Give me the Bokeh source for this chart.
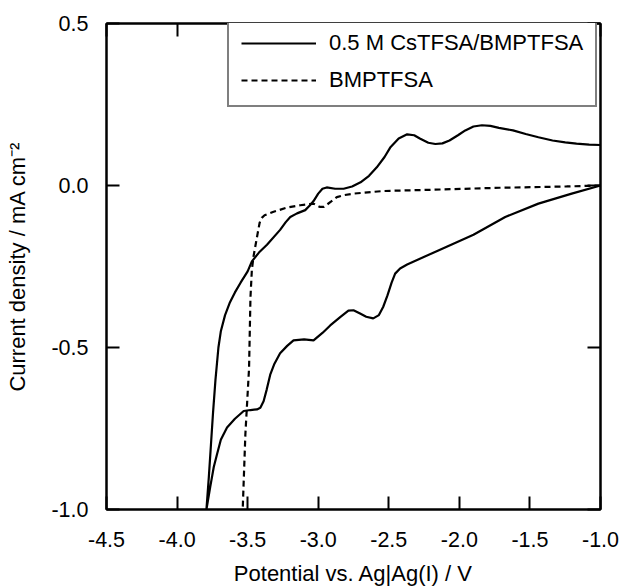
from bokeh.plotting import figure
from bokeh.models import LinearAxis, FixedTicker, NumeralTickFormatter, Range1d, Legend, LegendItem
from bokeh.embed import file_html
from bokeh.resources import INLINE

# ---- data ----
x_ticks = [-4.5, -4.0, -3.5, -3.0, -2.5, -2.0, -1.5, -1.0]
y_ticks = [-1.0, -0.5, 0.0, 0.5]

cs_label = "0.5 M CsTFSA/BMPTFSA"
cs_x = [-1.0, -1.204, -1.44, -1.675, -1.90, -2.137, -2.37, -2.42, -2.455, -2.48, -2.51, -2.54, -2.57,
        -2.61, -2.66, -2.70, -2.75, -2.786, -2.84, -2.915, -2.97, -3.033, -3.10, -3.175, -3.22,
        -3.27, -3.31, -3.34, -3.365, -3.387, -3.41, -3.434, -3.48, -3.528, -3.59, -3.646, -3.69,
        -3.716, -3.74, -3.765, -3.792,
        -3.775, -3.760, -3.745, -3.728, -3.707, -3.69, -3.66, -3.625, -3.59, -3.55, -3.50, -3.47,
        -3.42, -3.363, -3.27, -3.23, -3.198, -3.15, -3.092, -3.06, -3.033, -3.00, -2.97, -2.94,
        -2.88, -2.82, -2.76, -2.70, -2.64, -2.585, -2.53, -2.49, -2.43, -2.37, -2.32, -2.28,
        -2.22, -2.17, -2.12, -2.07, -2.01, -1.958, -1.90, -1.84, -1.78, -1.72, -1.62, -1.53,
        -1.44, -1.34, -1.25, -1.17, -1.08, -1.0]
cs_y = [0.0, -0.025, -0.056, -0.097, -0.152, -0.198, -0.244, -0.256, -0.272, -0.30, -0.34, -0.375, -0.40,
        -0.41, -0.405, -0.396, -0.385, -0.386, -0.405, -0.432, -0.455, -0.478, -0.475, -0.478, -0.495,
        -0.518, -0.55, -0.584, -0.63, -0.666, -0.686, -0.691, -0.693, -0.696, -0.72, -0.747, -0.785,
        -0.828, -0.869, -0.93, -1.0,
        -0.90, -0.80, -0.70, -0.60, -0.50, -0.45, -0.40, -0.36, -0.33, -0.30, -0.265, -0.234,
        -0.207, -0.183, -0.137, -0.113, -0.097, -0.086, -0.076, -0.062, -0.048, -0.025, -0.010, -0.006,
        -0.010, -0.010, -0.003, 0.010, 0.030, 0.056, 0.088, 0.117, 0.145, 0.158, 0.155, 0.145,
        0.132, 0.128, 0.130, 0.139, 0.155, 0.170, 0.182, 0.186, 0.184, 0.178, 0.170, 0.159,
        0.149, 0.139, 0.133, 0.129, 0.126, 0.125]

bmp_label = "BMPTFSA"
bmp_x = [-1.0, -1.24, -1.714, -2.18, -2.538, -2.75, -2.82, -2.868, -2.91, -2.96, -2.99, -3.033,
         -3.127, -3.22, -3.316, -3.38, -3.40, -3.415, -3.43, -3.458, -3.47, -3.48, -3.49, -3.516, -3.535]
bmp_y = [0.0, -0.003, -0.007, -0.013, -0.017, -0.025, -0.030, -0.036, -0.050, -0.066, -0.066, -0.056,
         -0.061, -0.068, -0.081, -0.092, -0.10, -0.115, -0.15, -0.218, -0.26, -0.345, -0.564, -0.767, -1.0]

x_title = "Potential vs. Ag|Ag(I) / V"
y_title = "Current density / mA cm\u207b\u00b2"

FONT = "Liberation Sans"
FS_TICK = "21.5px"
FS_TITLE = "22px"

p = figure(width=620, height=588, output_backend="svg", toolbar_location=None,
           x_range=Range1d(-4.5, -1.0), y_range=Range1d(-1.0, 0.5),
           min_border_left=106, min_border_right=20, min_border_top=23, min_border_bottom=75)
p.xgrid.visible = False
p.ygrid.visible = False
p.outline_line_color = "black"
p.outline_line_width = 2
p.background_fill_color = "white"
p.border_fill_color = "white"

r1 = p.line(cs_x, cs_y, line_color="black", line_width=2.2)
r2 = p.line(bmp_x, bmp_y, line_color="black", line_width=2.2, line_dash="6 4")


def style(ax, labels=True):
    ax.axis_line_color = "black"
    ax.axis_line_width = 2
    ax.major_tick_line_color = "black"
    ax.major_tick_line_width = 2
    ax.major_tick_in = 13
    ax.major_tick_out = 0
    ax.minor_tick_line_color = None
    ax.major_label_text_font = FONT
    ax.major_label_text_font_size = FS_TICK
    ax.major_label_text_color = "black"
    ax.axis_label_text_font = FONT
    ax.axis_label_text_font_size = FS_TITLE
    ax.axis_label_text_font_style = "normal"
    ax.axis_label_text_color = "black"
    if not labels:
        ax.major_label_text_font_size = "0px"
        ax.major_label_standoff = 0


xa = p.xaxis[0]
ya = p.yaxis[0]
xa.ticker = FixedTicker(ticks=x_ticks)
ya.ticker = FixedTicker(ticks=y_ticks)
xa.formatter = NumeralTickFormatter(format="0.0")
ya.formatter = NumeralTickFormatter(format="0.0")
style(xa)
style(ya)
xa.axis_label = x_title
ya.axis_label = y_title
xa.major_label_standoff = 22
ya.major_label_standoff = 18
xa.axis_label_standoff = 11
ya.axis_label_standoff = 18

xt = LinearAxis(ticker=FixedTicker(ticks=x_ticks))
yr = LinearAxis(ticker=FixedTicker(ticks=y_ticks))
style(xt, labels=False)
style(yr, labels=False)
p.add_layout(xt, "above")
p.add_layout(yr, "right")

legend = Legend(items=[LegendItem(label=cs_label, renderers=[r1]),
                       LegendItem(label=bmp_label, renderers=[r2])],
                location=(121, 402))
legend.label_text_font = FONT
legend.label_text_font_size = FS_TITLE
legend.label_text_color = "black"
legend.border_line_color = "black"
legend.border_line_width = 2
legend.background_fill_color = "white"
legend.background_fill_alpha = 1.0
legend.padding = 12
legend.spacing = 11
legend.label_height = 24
legend.glyph_height = 24
legend.glyph_width = 75
legend.label_standoff = 13
legend.margin = 0
p.add_layout(legend, "center")

open("out.html", "w").write(file_html(p, INLINE))
